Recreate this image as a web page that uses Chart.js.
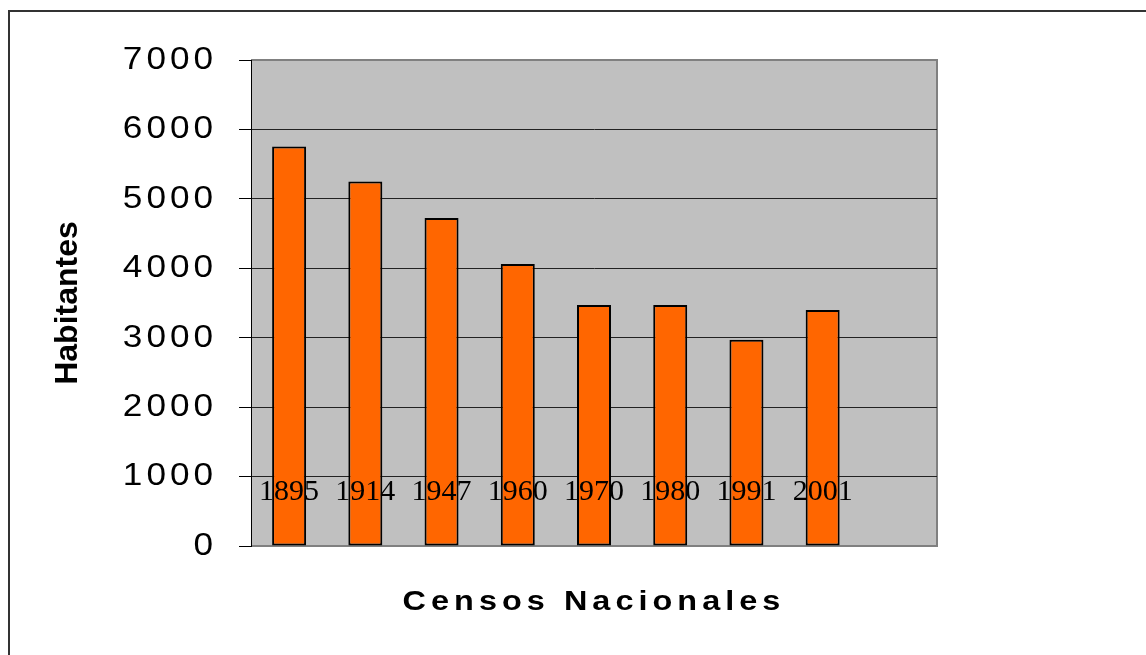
<!DOCTYPE html>
<html>
<head>
<meta charset="utf-8">
<script src="https://cdn.jsdelivr.net/npm/chart.js@4/dist/chart.umd.min.js"></script>
<style>
  html, body { margin: 0; padding: 0; background: #ffffff; }
  #wrap { width: 1146px; height: 655px; position: relative; }
</style>
</head>
<body>
<div id="wrap"><canvas id="c" width="1146" height="655"></canvas></div>
<script>
// ---- data ----
const categories = ['1895', '1914', '1947', '1960', '1970', '1980', '1991', '2001'];
const emptyCategories = [''];
const habitantes = [5755, 5250, 4725, 4060, 3470, 3470, 2970, 3400];
const yTicks = [0, 1000, 2000, 3000, 4000, 5000, 6000, 7000];
const yTitle = 'Habitantes';
const xTitle = 'Censos Nacionales';

const Y_TICK_PAD = 22, Y_TICK_LEN = 12;

const frameAndBackground = {
  id: 'frameAndBackground',
  beforeDraw(chart) {
    const ctx = chart.ctx;
    const a = chart.chartArea;
    ctx.save();
    // outer frame (left and top visible)
    ctx.strokeStyle = '#333333';
    ctx.lineWidth = 2;
    ctx.strokeRect(9, 11, 3000, 3000);
    // plot area background
    ctx.fillStyle = '#C0C0C0';
    ctx.fillRect(a.left, a.top, a.right - a.left, a.bottom - a.top);
    // plot border
    ctx.strokeStyle = '#808080';
    ctx.lineWidth = 2;
    ctx.beginPath();
    ctx.moveTo(a.left, a.top);
    ctx.lineTo(a.right, a.top);
    ctx.lineTo(a.right, a.bottom);
    ctx.lineTo(a.left, a.bottom);
    ctx.stroke();
    ctx.restore();

    // wider, letter-spaced text like the original rendering
    const y = chart.scales.y, x = chart.scales.x;
    if (y && !y._lsPatched) {
      const orig = y.drawLabels;
      y.drawLabels = function (ca) {
        const c = this.ctx;
        const ax = this.right - Y_TICK_LEN - Y_TICK_PAD;
        c.save();
        c.translate(ax, 0); c.scale(1.1, 1); c.translate(-ax, 0);
        c.letterSpacing = '3.6px';
        orig.call(this, ca);
        c.letterSpacing = '0px';
        c.restore();
      };
      y._lsPatched = true;
    }
    if (x && !x._lsPatched) {
      const origT = x.drawTitle;
      x.drawTitle = function (ca) {
        const c = this.ctx;
        const cx = (this.left + this.right) / 2;
        c.save();
        c.translate(cx, 0); c.scale(1.2, 1); c.translate(-cx, 0);
        c.letterSpacing = '4.2px';
        origT.call(this, ca);
        c.letterSpacing = '0px';
        c.restore();
      };
      x._lsPatched = true;
    }
  }
};

new Chart(document.getElementById('c'), {
  type: 'bar',
  data: {
    labels: categories.concat(emptyCategories),
    datasets: [{
      label: yTitle,
      data: habitantes,
      backgroundColor: '#FF6600',
      borderColor: '#000000',
      borderWidth: 2,
      borderSkipped: false,
      categoryPercentage: 1.0,
      barPercentage: 0.446
    }]
  },
  options: {
    responsive: false,
    animation: false,
    devicePixelRatio: 1,
    layout: { padding: { left: 0, right: 209, top: 60, bottom: 0 } },
    plugins: {
      legend: { display: false },
      tooltip: { enabled: false }
    },
    scales: {
      x: {
        grid: { display: false, drawTicks: false },
        border: { display: false },
        ticks: {
          z: 1,
          mirror: true,
          color: '#000000',
          font: { family: '"Liberation Serif", "Times New Roman", serif', size: 30 },
          padding: 36,
          maxRotation: 0,
          autoSkip: false
        },
        title: {
          display: true,
          text: xTitle,
          color: '#000000',
          font: { family: '"Liberation Sans", Arial, sans-serif', size: 27, weight: 'bold' },
          padding: { top: 0, bottom: 36 }
        },
        afterFit(scale) { scale.height = 655 - 546; }
      },
      y: {
        min: 0,
        max: 7000,
        afterBuildTicks(scale) { scale.ticks = yTicks.map(v => ({ value: v })); },
        grid: {
          color: (c) => (c.tick && (c.tick.value === 0 || c.tick.value === 7000)) ? '#808080' : '#222222',
          lineWidth: 1,
          drawTicks: true,
          tickLength: Y_TICK_LEN,
          tickColor: '#000000'
        },
        border: { display: true, color: '#000000', width: 1 },
        ticks: {
          color: '#000000',
          font: { family: '"Liberation Sans", Arial, sans-serif', size: 32 },
          padding: Y_TICK_PAD,
          callback: (v) => String(v)
        },
        title: {
          display: true,
          text: yTitle,
          color: '#000000',
          font: { family: '"Liberation Sans", Arial, sans-serif', size: 32, weight: 'bold' },
          padding: { top: 49, bottom: 0 }
        },
        afterFit(scale) { scale.width = 251; }
      }
    }
  },
  plugins: [frameAndBackground]
});
</script>
</body>
</html>
